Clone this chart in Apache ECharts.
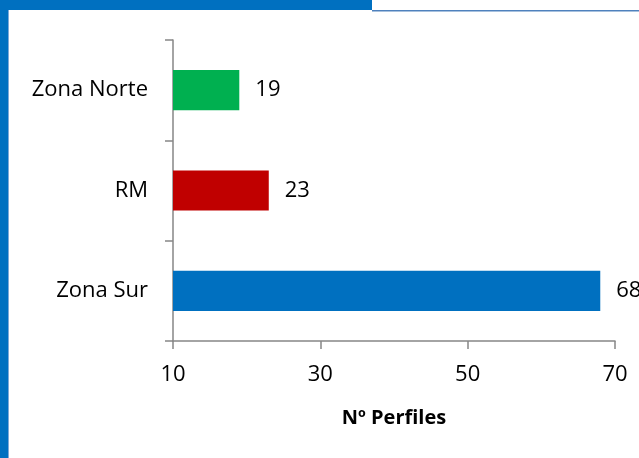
<!DOCTYPE html>
<html><head><meta charset="utf-8">
<script src="https://cdn.jsdelivr.net/npm/echarts@6/dist/echarts.min.js"></script>
<style>html,body{margin:0;padding:0;background:#fff}#c{width:639px;height:458px}</style>
</head><body><div id="c"></div>
<script>
var categories = ['Zona Sur', 'RM', 'Zona Norte'];
var values = [68, 23, 19];
var barColors = ['#0070c0', '#c00000', '#00b050'];
var xTicks = [10, 30, 50, 70];
var axisTitle = 'Nº Perfiles';
var FONT = '"Open Sans", "Noto Sans", sans-serif';

var chart = echarts.init(document.getElementById('c'), null, {renderer: 'canvas'});
chart.setOption({
  animation: false,
  backgroundColor: '#fff',
  grid: {left: 173, right: 24, top: 40, bottom: 117, containLabel: false},
  xAxis: {
    type: 'value', min: xTicks[0], max: xTicks[xTicks.length - 1], interval: 20,
    name: axisTitle, nameLocation: 'middle', nameGap: 67,
    nameTextStyle: {fontFamily: FONT, fontSize: 20, fontWeight: 'bold', color: '#000'},
    axisLine: {show: true, lineStyle: {color: '#868686', width: 1.5}},
    axisTick: {show: true, length: 8, lineStyle: {color: '#868686', width: 1.5}},
    axisLabel: {fontFamily: FONT, fontSize: 22, color: '#000', margin: 23},
    splitLine: {show: false}
  },
  yAxis: {
    type: 'category', data: categories,
    axisLine: {show: true, lineStyle: {color: '#868686', width: 1.5}},
    axisTick: {show: true, length: 8, lineStyle: {color: '#868686', width: 1.5}},
    axisLabel: {fontFamily: FONT, fontSize: 22, color: '#000', margin: 25}
  },
  series: [{
    type: 'bar', barWidth: '40%',
    data: values.map(function (v, i) { return {value: v, itemStyle: {color: barColors[i]}}; }),
    label: {show: true, position: 'right', distance: 16, fontFamily: FONT, fontSize: 22, color: '#000'}
  }],
  graphic: [
    {type: 'rect', shape: {x: 0, y: 0, width: 8, height: 458}, style: {fill: '#0070c0'}},
    {type: 'rect', shape: {x: 0, y: 0, width: 372, height: 10}, style: {fill: '#0070c0'}},
    {type: 'rect', shape: {x: 8, y: 10, width: 1, height: 448}, style: {fill: '#7fa9d8'}},
    {type: 'rect', shape: {x: 372, y: 10, width: 267, height: 1.5}, style: {fill: '#4f81bd'}}
  ]
});
</script></body></html>
